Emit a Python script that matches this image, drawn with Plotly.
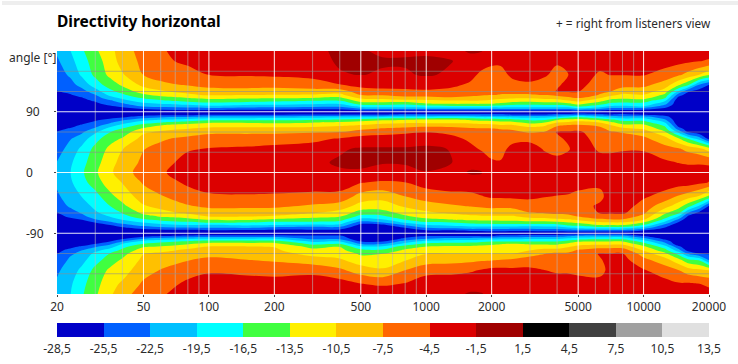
import numpy as np
import plotly.graph_objects as go

freqs = [20, 23, 26, 30, 35, 40, 50, 63, 80, 100, 150, 200, 300, 400, 500, 630, 800, 1000, 1300,
         1600, 1800, 2000, 2200, 2500, 3000, 3500, 4000, 4500, 5000, 6300, 7000, 8000, 10000, 12500, 14500, 16000, 18000, 20000]
angles = [180, 165, 145, 130, 120, 115, 110, 106, 102, 98, 94, 90,
          86, 82, 78, 74, 70, 65, 60, 50, 35, 15, 0,
          -15, -35, -50, -60, -65, -70, -74, -78, -82, -86, -90,
          -94, -98, -102, -106, -110, -115, -120, -130, -145, -165, -180]

# level in dB per frequency, one value per angle above
f_20 = [-22,-23,-24,-25,-25.6,-26.4,-27,-28,-28,-28,-28,-28, -28,-28,-28,-28,-27,-26,-25.4,-24.8,-23.8,-22.4,-22, -22,-23,-24.6,-25.6,-26,-26.4,-27,-27.4,-28,-28,-28, -28,-28,-27.6,-27,-26.6,-26,-25.6,-24.6,-23,-22,-21.6]
f_23 = [-19.6,-20.4,-22,-23.6,-25,-25.7,-26.4,-27,-27.4,-28,-28,-28, -28,-28,-28,-27.4,-26.4,-25.3,-24.4,-22.7,-21.4,-20,-19.6, -20,-21,-22,-24.1,-25.2,-26,-26.6,-27,-27.6,-28,-28, -28,-28,-27.6,-27,-26,-25,-23,-21.9,-21,-20,-19.6]
f_26 = [-17,-18,-19,-21.4,-23.7,-24.7,-25.8,-26.4,-27,-27.4,-28,-28, -28,-28,-27.4,-26.4,-25.2,-24,-23,-21,-18.8,-17.6,-17, -17.7,-19.4,-21,-22.2,-23.4,-25.6,-26.6,-27,-27.6,-28,-28, -28,-27.6,-27,-26.4,-25.2,-22.6,-21.8,-20.4,-18.8,-17.4,-16.9]
f_30 = [-14,-14.8,-15.8,-18,-20.8,-22.6,-24,-25.2,-26.2,-27,-28,-28, -28,-27.4,-26,-24.8,-23.7,-22,-20,-17.6,-15.6,-14.6,-14, -15,-17.7,-18.8,-20,-21,-22.8,-25.4,-26.6,-27.4,-28,-28, -28,-27.6,-26.6,-25.4,-22.8,-20.4,-18.8,-17.6,-15.6,-14.6,-14]
f_35 = [-11.6,-12.2,-12.8,-15,-17.4,-18.8,-21,-23.2,-24.4,-26,-27.4,-28, -27.8,-26.4,-24.8,-23,-21,-18.4,-16.6,-14.6,-12.8,-11.8,-11.2, -12,-14.3,-16.6,-18.3,-19.4,-21,-23,-25.6,-26.6,-27.4,-28, -27.6,-27,-25.6,-23.2,-20.8,-18.2,-16.4,-15,-12.9,-11.6,-11]
f_40 = [-8.8,-9.2,-10.8,-13,-15.4,-17,-19,-20.8,-22.8,-24.8,-27,-28, -28,-25.8,-23.2,-20.6,-18.4,-16.4,-15.2,-13.2,-10.6,-9.3,-8.6, -10.4,-12.2,-14.3,-16.4,-17.8,-19.4,-21.4,-23.6,-26,-27,-28, -27.2,-26,-22.6,-19.2,-17.4,-15.8,-14.6,-13,-11.8,-10,-8.8]
f_50 = [-6.4,-6.8,-7.4,-9.7,-12,-14,-16.4,-18,-20.2,-22.3,-25.6,-28, -27,-24,-20.4,-18,-15.4,-13,-11,-9.4,-7.6,-6.9,-6.4, -7.2,-9,-10.8,-12.9,-14.4,-17.2,-19.4,-21.6,-24.2,-27,-28, -26.6,-22.6,-18.6,-16.2,-13.8,-12,-10.6,-9.8,-8.6,-7,-5.8]
f_63 = [-4.6,-5,-6,-8,-10.6,-12.3,-14.8,-16.8,-19.2,-21.6,-24.8,-28, -27,-22.4,-19.2,-16.2,-13.2,-11.3,-9.8,-7.7,-6.4,-5.3,-4.6, -5.6,-7.4,-9.4,-11.3,-13,-15.4,-18,-20.2,-23.2,-26.6,-28, -25.6,-21.2,-17.4,-14.8,-12.9,-11,-10,-8.8,-7,-5.6,-4.6]
f_80 = [-3,-3.8,-5.8,-7.2,-9.8,-11,-13.8,-15.9,-18.3,-21,-24.4,-28, -27,-22,-18.3,-15,-12.4,-10.6,-9,-6.8,-4.8,-3.4,-3, -4,-5.8,-7.8,-10,-12,-14.7,-17.1,-19.6,-23,-26.6,-28, -25,-20,-16.2,-13.6,-11.6,-10,-9,-7.6,-5.8,-3.8,-3]
f_100 = [-2.4,-3.2,-4.4,-6.6,-8.6,-10.2,-12.9,-15.1,-17.6,-20.2,-24.2,-28, -26,-21.3,-17,-13.8,-12,-9.8,-8,-6.4,-4.3,-2.8,-2.2, -2.8,-5,-7,-9,-10.4,-13.3,-16.2,-20.3,-22.6,-26,-28, -24.6,-19.6,-15.2,-12.4,-10.2,-9.4,-8.4,-6.8,-4.9,-3,-2.6]
f_150 = [-2.2,-3,-4.2,-6.4,-8.6,-10.4,-13.2,-15.4,-18.2,-21,-24.6,-28, -26,-21,-17,-13.8,-11.8,-9.7,-8,-6.2,-4,-2.6,-2, -2.6,-4.8,-7,-9,-10.4,-13.2,-16.4,-19.2,-22.4,-26.2,-28, -24.6,-19.6,-15.2,-12.3,-10.2,-9.4,-8.8,-7.4,-5.4,-3,-2.2]
f_200 = [-2,-2.8,-4,-6.4,-8.8,-10.6,-13.6,-16.1,-18.4,-21.4,-24.6,-28, -26,-20.8,-17,-14,-12,-9.6,-8,-6,-3.6,-2.2,-1.9, -2.4,-5,-7,-9.2,-10.8,-14.2,-17.2,-19.6,-23.4,-26.6,-28, -24.6,-19.6,-15.2,-12.4,-10.6,-10,-9.2,-7.8,-5.8,-3,-2]
f_300 = [-1.9,-2.4,-3.6,-5.8,-8.6,-10.8,-13.8,-16.6,-19,-21.8,-25.2,-28, -25.6,-20.2,-16.6,-13.6,-11.6,-9.6,-7.8,-5.3,-3.2,-2,-1.8, -3.1,-5.2,-8,-10.3,-12.4,-14.9,-17.1,-20.3,-23.8,-26.4,-28, -25,-23.2,-20.2,-17.2,-14.4,-12.7,-11.6,-9,-5.4,-2.8,-2]
f_400 = [-1.2,-1.2,-1.7,-4.6,-9,-11.4,-14.4,-16.8,-19.2,-22,-25.2,-28, -25.6,-20,-16,-13,-11,-9,-7.6,-4.2,-1.8,-1.2,-1.8, -3,-5.4,-8.9,-11.8,-13.2,-15.4,-17.7,-20.4,-23.8,-26.8,-28, -25,-23.2,-19.6,-16,-13.6,-12.6,-11.8,-10,-6.8,-3.2,-1.8]
f_500 = [-1.2,-1,-1.4,-3.6,-5.9,-7.4,-10.2,-12.4,-15.2,-18.6,-23,-28, -25.6,-19.6,-14.8,-12.4,-10.4,-8.2,-6,-3.4,-1.2,-1,-1.8, -4.4,-8.6,-11.8,-14.9,-17.6,-20.6,-24,-26.8,-28,-28,-28, -28,-28,-25.6,-22.6,-18.8,-15.8,-14,-12,-9,-4.4,-2]
f_630 = [-2,-1.2,-1.8,-3.4,-5.4,-7.2,-9.9,-12.2,-15,-18,-22.6,-28, -25.6,-18.8,-14,-11.2,-9.6,-7.2,-5.6,-3.2,-1.2,-1.4,-2, -5,-9.4,-12,-14.8,-17.2,-19.8,-22.6,-26.4,-28,-28,-28, -28,-28,-25.6,-22.6,-18.6,-16,-13.6,-12.4,-10,-5,-2.4]
f_800 = [-2,-1.2,-1.8,-3.6,-5,-6.2,-8.8,-11.8,-15.8,-18,-22.6,-28, -25,-18.8,-13.6,-11,-8.7,-6.8,-5,-3,-1.2,-1.2,-2.4, -4.6,-7.4,-10.1,-12.6,-14,-16.7,-19,-22.6,-25.6,-27,-28, -27,-24.8,-21.4,-18.4,-15,-13,-12.2,-10.6,-7.4,-4.3,-2.6]
f_1000 = [-2,-1,-1.2,-3.4,-4.9,-6.4,-8.8,-11.6,-13.6,-17.6,-22.6,-28, -25,-18.8,-13,-11,-8.8,-6,-4.6,-2.6,-1,-0.8,-1.6, -3.4,-5.9,-9,-11,-12.4,-14.4,-17,-19.6,-22.6,-25.8,-28, -25.6,-22.6,-18.6,-15.6,-13.3,-12,-10.6,-9,-5.4,-3,-2.2]
f_1300 = [-2.2,-1.4,-1.9,-3.8,-5.4,-6.6,-7.9,-11,-13.2,-17,-22.6,-28, -25,-18,-13,-11,-8.8,-6.4,-5.4,-3.4,-1.6,-1.4,-2.6, -3,-5.3,-8,-10.2,-11.9,-13.6,-16.6,-18.8,-21.8,-25.8,-28, -25.6,-21.6,-18,-15,-12.9,-11.8,-10.6,-8.6,-5.2,-3,-2.2]
f_1600 = [-1.2,-2.4,-3.6,-5,-6.3,-7,-8.2,-10.8,-13.2,-17,-22.6,-28, -25,-18.6,-13.8,-11.2,-8.9,-7.2,-6.4,-5.2,-3.6,-2.4,-1.2, -2.8,-5.2,-7.4,-9.8,-10.8,-13,-15.6,-18,-21,-25,-28, -25.6,-21.4,-17.8,-15,-12.8,-11.8,-10.6,-8.2,-4.8,-2.6,-1.2]
f_1800 = [-1.4,-3,-5.2,-6.4,-7,-7.3,-8.4,-10.8,-13.2,-17,-22.6,-28, -25,-19.4,-14.4,-11.8,-9.4,-7.3,-7,-6.2,-4.9,-2.4,-1.4, -2.2,-4.6,-7.1,-9.4,-10.8,-12.9,-15.2,-18,-21.2,-25,-28, -25.8,-21,-17,-14.4,-12.8,-11.8,-10.6,-7.8,-4.2,-2.2,-1.4]
f_2000 = [-2.6,-4,-5.4,-6.4,-7.1,-7.4,-9.3,-11.4,-13.4,-17.6,-22.6,-28, -25,-19.4,-14.6,-12,-9.6,-7.4,-7,-6.4,-5.4,-4.2,-3, -2.2,-4,-6.8,-9.2,-10.8,-12.8,-15,-17.8,-21,-24.6,-28, -25.8,-21,-16.6,-14,-12.6,-11.8,-10.6,-7.6,-3.6,-2.4,-2]
f_2200 = [-2.8,-4,-5.4,-6.5,-7.1,-7.6,-9.9,-12,-13.9,-17.6,-22.6,-28, -25,-19.6,-15,-12.4,-10.2,-7.6,-7,-6.4,-5.4,-4.3,-2.8, -2.4,-4,-6.8,-9.4,-10.8,-12.6,-15,-17.8,-21,-24.6,-28, -24.6,-20.4,-16.6,-13.6,-12.4,-11.6,-10.6,-7.2,-3.6,-2.4,-2]
f_2500 = [-2.2,-3,-3.9,-5.3,-6.9,-7.7,-10.4,-12.4,-15,-18.2,-22.6,-28, -25.6,-20,-15.4,-12.6,-10.2,-7.8,-7,-5.4,-3.6,-2.6,-2, -2.4,-3.8,-6.8,-9,-10.8,-12.8,-14.8,-17.8,-21,-25,-28, -24.6,-20.4,-16.6,-13.2,-12.2,-11.6,-10.6,-6.8,-3.8,-2.6,-2]
f_3000 = [-2.2,-2.8,-3.6,-4.9,-6.8,-7.7,-10.4,-12.8,-15.4,-18.2,-22.6,-28, -25.6,-20.4,-17,-14.4,-12,-9.2,-7.8,-5.4,-3,-2.4,-2, -2.2,-3.8,-6,-7.6,-9.6,-12,-14.8,-18,-21.4,-25,-28, -24.2,-19.9,-16.6,-13.8,-12,-10.6,-8.6,-6.2,-3.8,-2.4,-1.8]
f_3500 = [-2.4,-3,-4.2,-5.4,-6.8,-7.4,-9.9,-12.3,-15,-18.2,-22.6,-28, -25.6,-20.4,-16.6,-13.6,-11,-9,-7.4,-6.4,-4.8,-3,-2.4, -2.2,-4.3,-6,-7.4,-9.2,-12,-14.6,-17.8,-21,-24.6,-28, -24.2,-20,-16.6,-13.8,-11.6,-9.8,-7.6,-6.4,-4.4,-2.6,-2]
f_4000 = [-3.3,-4.2,-5.2,-5,-4.2,-6.6,-9.6,-12,-15,-18,-22.6,-28, -25,-19,-13.6,-10.6,-8,-6.2,-4.2,-5.2,-5.4,-3.6,-2.6, -2.4,-4.6,-6.2,-7.2,-8.2,-11.4,-14.2,-17.8,-21,-24.6,-28, -24.2,-19.9,-16.6,-14,-11.8,-9.6,-7,-6.2,-5,-2.6,-2]
f_4500 = [-2.8,-3.6,-4.6,-3.6,-4.3,-6,-8.4,-10.8,-14,-17.8,-22.6,-28, -25,-17.4,-12.6,-9.8,-7.2,-5.4,-4.2,-3.9,-4.9,-2.6,-2, -2.6,-4.8,-6.2,-7,-8.2,-10.8,-13.6,-16.2,-19.9,-24.4,-28, -23,-19,-15.2,-12.6,-10.8,-8.2,-7.2,-6.6,-5,-2.8,-2]
f_5000 = [-2.4,-2.6,-3,-3.6,-4.4,-5.7,-7.6,-9.9,-12.6,-15.9,-21,-28, -24,-16.6,-12,-9.2,-7,-5.3,-4,-3.2,-2.6,-2.2,-2, -3.2,-5.4,-6.2,-7,-7.4,-10,-12.9,-15.9,-19,-24,-28, -22,-18.1,-13.8,-11.6,-9.4,-7.3,-7,-6.4,-5.4,-3,-2]
f_6300 = [-2.2,-3.4,-4.9,-5.8,-6.9,-7.7,-10.6,-12.8,-15.4,-18,-22.6,-28, -25,-19,-14,-10.6,-8,-6.8,-6.2,-5.8,-5,-3.2,-2.4, -3.6,-5.6,-3.8,-4.3,-6,-8.1,-10.9,-13.6,-18,-24,-28, -21.4,-17.4,-13.6,-11.1,-8.8,-6,-4.2,-4.8,-5.8,-3,-2]
f_7000 = [-2.2,-3,-4.4,-6.2,-7.4,-9.7,-12.4,-14.8,-17,-19.9,-24,-28, -25.6,-20.1,-15.6,-12.6,-10.2,-8.2,-7.2,-6.4,-5.2,-3,-2.2, -2.4,-2.8,-3.2,-4.2,-5.8,-7.8,-10.6,-13.6,-17.8,-24,-28, -21.4,-17.4,-13.6,-11.1,-8.8,-6,-4.4,-3.6,-3.4,-2.4,-2]
f_8000 = [-2.2,-3.2,-4.4,-6.4,-9,-11.1,-13,-15.3,-17.4,-20.2,-24,-28, -25,-21,-17.6,-15,-12.6,-9.8,-7.7,-6.4,-4.8,-3,-2.2, -2.2,-2.6,-3,-4,-5.8,-7.8,-10.6,-13.6,-17.8,-24,-28, -21.4,-17.4,-13.6,-11.1,-8.8,-6,-4.4,-3.4,-2.6,-2.2,-2]
f_10000 = [-2,-3,-4.3,-6.7,-9,-10.6,-12.6,-15.2,-17.4,-19.6,-24.6,-28, -26,-21,-17.6,-15,-12.8,-10.9,-8.9,-6.8,-4.8,-3,-2.2, -2,-4,-5.8,-7,-8.4,-10.4,-13.6,-16.6,-20.6,-25.6,-28, -25.6,-21.4,-18,-15.2,-12.8,-10.8,-8.8,-6.6,-4.2,-2.4,-2]
f_12500 = [-2.2,-3.2,-5.7,-8.8,-11.9,-14.1,-16.4,-19.2,-21.4,-24,-26.4,-28, -27,-24,-22,-19.4,-17.1,-15,-13,-9.3,-6.4,-4,-3, -3,-5.6,-9.3,-13,-14.8,-17.4,-20.3,-23.6,-25.8,-27.4,-28, -28,-26.4,-23.8,-21,-18,-15.2,-12.8,-9,-6,-3.4,-2.4]
f_14500 = [-2.6,-3.7,-7,-13,-20,-24.2,-26.8,-28,-28,-28,-28,-28, -28,-28,-28,-28,-26.8,-24.2,-20.3,-13.2,-7.2,-4.6,-3.2, -3.2,-7.8,-12.3,-16,-19.6,-23.4,-25.8,-28,-28,-28,-28, -28,-28,-28,-28,-24.6,-21.4,-17.6,-12.4,-7.4,-4.2,-2.8]
f_16000 = [-2.6,-4,-8.4,-15.8,-25.1,-27,-28,-28,-28,-28,-28,-28, -28,-28,-28,-28,-28,-27,-25.8,-16.6,-8.3,-4.9,-3.2, -3.2,-9,-15.4,-22.6,-26,-28,-28,-28,-28,-28,-28, -28,-28,-28,-28,-28,-26.8,-22.8,-15.3,-9,-4.1,-3]
f_18000 = [-2.6,-4.4,-10.4,-22.6,-27,-28,-28,-28,-28,-28,-28,-28, -28,-28,-28,-28,-28,-28,-27.4,-20.7,-9.4,-4.8,-3.4, -4,-10.6,-20,-26.6,-28,-28,-28,-28,-28,-28,-28, -28,-28,-28,-28,-28,-28,-25.6,-16.6,-9.8,-4.4,-3.2]
f_20000 = [-3,-4.9,-13,-25.6,-26.4,-25.8,-27,-28,-28,-28,-28,-28, -28,-28,-28,-28,-27,-26,-27,-26.4,-11.8,-4.9,-3.6, -4.6,-14,-26,-25.8,-27,-28,-28,-28,-28,-28,-28, -28,-28,-28,-28,-28,-28,-25.8,-22.6,-10.4,-5,-3.6]

columns = [f_20, f_23, f_26, f_30, f_35, f_40, f_50, f_63, f_80, f_100, f_150, f_200, f_300, f_400, f_500,
           f_630, f_800, f_1000, f_1300, f_1600, f_1800, f_2000, f_2200, f_2500, f_3000, f_3500, f_4000, f_4500,
           f_5000, f_6300, f_7000, f_8000, f_10000, f_12500, f_14500, f_16000, f_18000, f_20000]

band_colors = ["#0000C8", "#0060FF", "#00C0FF", "#00FFFF", "#40FF40", "#FFF000", "#FFC000",
               "#FF6600", "#DC0000", "#A00000", "#000000", "#404040", "#A0A0A0", "#E0E0E0"]
legend_edges = [-28.5, -25.5, -22.5, -19.5, -16.5, -13.5, -10.5, -7.5, -4.5, -1.5, 1.5, 4.5, 7.5, 10.5, 13.5]
legend_labels = ["-28,5", "-25,5", "-22,5", "-19,5", "-16,5", "-13,5", "-10,5", "-7,5", "-4,5", "-1,5",
                 "1,5", "4,5", "7,5", "10,5", "13,5"]
legend_mid = [-27, -24, -21, -18, -15, -12, -9, -6, -3, 0, 3, 6, 9, 12]

x_ticks = [20, 50, 100, 200, 500, 1000, 2000, 5000, 10000, 20000]
x_major = [50, 100, 200, 500, 1000, 2000, 5000, 10000]
x_minor = [30, 40, 60, 70, 80, 90, 300, 400, 600, 700, 800, 900, 3000, 4000, 6000, 7000, 8000, 9000]
y_ticks = [90, 0, -90]
y_white = [0, 90, -90]
y_grey = [150, 120, 60, 30, -30, -60, -120, -150]

n = len(band_colors)
scale = []
for i, c in enumerate(band_colors):
    scale += [[i / n, c], [(i + 1) / n, c]]

TEXT = "#2b2b2b"
FONT = "Noto Sans"

fig = go.Figure()
fig.add_trace(go.Contour(
    x=freqs, y=angles, z=np.array(columns).T.tolist(),
    colorscale=scale, showscale=False, autocontour=False,
    contours=dict(start=-25.5, end=10.5, size=3, coloring="fill", showlines=False),
    line=dict(width=0), hoverinfo="skip", xaxis="x", yaxis="y"))


def vlines(values):
    xs, ys = [], []
    for v in values:
        xs += [v, v, None]
        ys += [-180, 180, None]
    return xs, ys


def hlines(values):
    xs, ys = [], []
    for v in values:
        xs += [20, 20000, None]
        ys += [v, v, None]
    return xs, ys


for fn, vals, col, w in [(vlines, x_minor, "rgba(185,185,185,0.6)", 1),
                         (hlines, y_grey, "rgba(140,140,140,0.6)", 1),
                         (vlines, x_major, "rgba(255,255,255,0.9)", 1),
                         (hlines, y_white, "rgba(255,255,255,0.9)", 1)]:
    xs, ys = fn(vals)
    fig.add_trace(go.Scatter(x=xs, y=ys, mode="lines", line=dict(color=col, width=w),
                             hoverinfo="skip", showlegend=False, xaxis="x", yaxis="y"))

fig.add_trace(go.Heatmap(x=legend_edges, y=[0, 1], z=[legend_mid], zmin=-28.5, zmax=13.5,
                         colorscale=scale, showscale=False, hoverinfo="skip", xaxis="x2", yaxis="y2"))

annotations = [
    dict(text="<b>Directivity horizontal</b>", xref="paper", yref="paper", x=-0.003, y=1.106,
         xanchor="left", yanchor="middle", showarrow=False, font=dict(size=15.5, color="#000000", family=FONT)),
    dict(text="+ = right from listeners view", xref="paper", yref="paper", x=1.0065, y=1.097,
         xanchor="right", yanchor="middle", showarrow=False, font=dict(size=11.8, color=TEXT, family=FONT)),
    dict(text="angle [°]", xref="paper", yref="paper", x=-0.076, y=0.979,
         xanchor="left", yanchor="middle", showarrow=False, font=dict(size=12, color=TEXT, family=FONT)),
]
for a in y_ticks:
    annotations.append(dict(text=str(a), xref="paper", yref="y", x=-0.05, y=a, xanchor="left",
                            yanchor="middle", showarrow=False, font=dict(size=12, color=TEXT, family=FONT)))

fig.update_layout(
    width=738, height=364, autosize=False,
    margin=dict(l=57, r=29, t=51, b=27, pad=0, autoexpand=False),
    paper_bgcolor="white", plot_bgcolor="white", showlegend=False,
    font=dict(family=FONT, size=12, color=TEXT),
    xaxis=dict(type="log", range=[np.log10(20), np.log10(20000)], domain=[0, 1], anchor="y", automargin=False,
               tickmode="array", tickvals=x_ticks, ticktext=[str(v) for v in x_ticks],
               ticks="outside", ticklen=2, tickcolor="#444", showgrid=False, zeroline=False, showline=False,
               tickfont=dict(size=12, color=TEXT)),
    yaxis=dict(range=[-180, 180], domain=[0.1503, 1], anchor="x", automargin=False, tickmode="array", tickvals=y_ticks,
               showticklabels=False, ticks="outside", ticklen=2, tickcolor="#444",
               showgrid=False, zeroline=False, showline=False),
    xaxis2=dict(range=[-28.5, 13.5], domain=[0, 1], anchor="y2", automargin=False, tickmode="array", tickvals=legend_edges,
                ticktext=legend_labels, ticks="outside", ticklen=1, tickcolor="rgba(0,0,0,0)",
                showgrid=False, zeroline=False, showline=False,
                tickfont=dict(size=12, color=TEXT)),
    yaxis2=dict(range=[0, 1], domain=[0, 0.049], anchor="x2", automargin=False, showticklabels=False, ticks="",
                showgrid=False, zeroline=False, showline=False),
    annotations=annotations,
    shapes=[dict(type="rect", xref="paper", yref="paper", x0=-0.0844, x1=1.0445, y0=1.161, y1=1.175,
                 fillcolor="#eeeeee", line=dict(width=0), layer="below")],
)

fig.write_html("out.html", config={"displayModeBar": False},
               post_script="document.body.style.margin='0';document.body.style.overflow='hidden';")
